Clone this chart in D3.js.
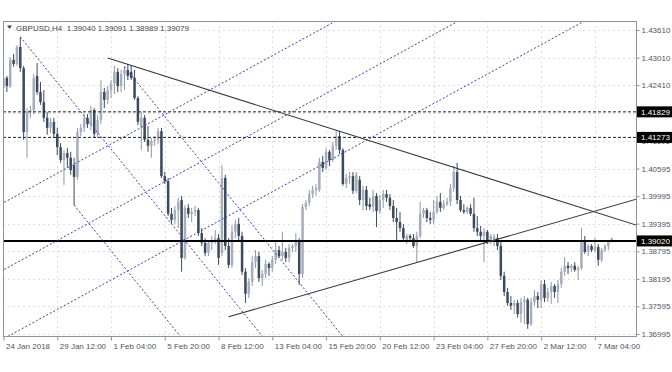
<!DOCTYPE html>
<html>
<head>
<meta charset="utf-8">
<script src="https://cdn.jsdelivr.net/npm/d3@7"></script>
<style>
  html, body { margin: 0; padding: 0; background: #fff; }
  svg { display: block; font-family: "Liberation Sans", Arial, sans-serif; }
</style>
</head>
<body>
<svg id="chart" width="672" height="372"></svg>
<script>
// GBPUSD H4 bars
const openP = [
  1.4235,1.4257,1.4239,1.4296,1.4287,1.4324,1.4278,1.4139,1.4183,1.4187,
  1.4261,1.4226,1.4204,1.4170,1.4148,1.4161,1.4135,1.4106,1.4078,1.4093,
  1.4083,1.4067,1.4041,1.4139,1.4148,1.4170,1.4156,1.4187,1.4135,1.4165,
  1.4226,1.4209,1.4230,1.4244,1.4270,1.4239,1.4265,1.4274,1.4270,1.4257,
  1.4213,1.4150,1.4170,1.4122,1.4109,1.4120,1.4122,1.4141,1.4043,1.4032,
  1.3961,1.3948,1.3969,1.3991,1.3865,1.3974,1.3961,1.3965,1.3969,1.3919,
  1.3898,1.3876,1.3898,1.3904,1.3908,1.3876,1.4039,1.3891,1.3850,1.3922,
  1.3939,1.3913,1.3835,1.3787,1.3813,1.3856,1.3869,1.3821,1.3830,1.3852,
  1.3843,1.3861,1.3882,1.3869,1.3878,1.3865,1.3887,1.3891,1.3900,1.3830,
  1.3976,1.3985,1.4004,1.4013,1.4013,1.4074,1.4061,1.4096,1.4078,1.4109,
  1.4130,1.4100,1.4026,1.4039,1.4043,1.4011,1.4035,1.3991,1.4013,1.3982,
  1.3976,1.4000,1.3967,1.3991,1.4004,1.3996,1.3978,1.3952,1.3943,1.3930,
  1.3904,1.3913,1.3908,1.3891,1.3913,1.3961,1.3969,1.3952,1.3948,1.3965,
  1.3987,1.3974,1.3982,1.3987,1.4017,1.4052,1.3991,1.3969,1.3965,1.3974,
  1.3961,1.3930,1.3922,1.3913,1.3922,1.3902,1.3904,1.3908,1.3891,1.3826,
  1.3791,1.3767,1.3761,1.3767,1.3743,1.3769,1.3774,1.3721,1.3769,1.3782,
  1.3774,1.3808,1.3778,1.3791,1.3804,1.3791,1.3808,1.3835,1.3848,1.3843,
  1.3848,1.3839,1.3843,1.3904,1.3878,1.3891,1.3882,1.3889,1.3861,1.3882,
  1.3891,1.3904
];
const highP = [
  1.4268,1.4261,1.4302,1.4309,1.4328,1.4346,1.4283,1.4191,1.4196,1.4265,
  1.4289,1.4248,1.4230,1.4183,1.4170,1.4170,1.4148,1.4115,1.4100,1.4104,
  1.4096,1.4083,1.4148,1.4156,1.4178,1.4178,1.4196,1.4191,1.4176,1.4252,
  1.4235,1.4239,1.4252,1.4283,1.4278,1.4274,1.4283,1.4287,1.4283,1.4274,
  1.4217,1.4183,1.4176,1.4152,1.4126,1.4130,1.4148,1.4148,1.4052,1.4039,
  1.3974,1.3978,1.3996,1.4000,1.3980,1.3982,1.3974,1.3978,1.3974,1.3930,
  1.3908,1.3904,1.3913,1.3926,1.3917,1.4067,1.4046,1.3908,1.3937,1.3948,
  1.3952,1.3922,1.3843,1.3821,1.3869,1.3882,1.3878,1.3839,1.3861,1.3856,
  1.3869,1.3904,1.3891,1.3922,1.3887,1.3895,1.3895,1.3919,1.3908,1.3982,
  1.3991,1.4013,1.4022,1.4026,1.4083,1.4087,1.4104,1.4100,1.4117,1.4143,
  1.4141,1.4104,1.4048,1.4052,1.4052,1.4052,1.4043,1.4022,1.4022,1.3996,
  1.4013,1.4006,1.4002,1.4013,1.4013,1.4004,1.3991,1.3974,1.3965,1.3939,
  1.3917,1.3917,1.3917,1.3922,1.3987,1.3974,1.3974,1.3965,1.3991,1.4000,
  1.4006,1.3991,1.3996,1.4026,1.4065,1.4072,1.4000,1.3982,1.3978,1.3982,
  1.3996,1.3956,1.3935,1.3930,1.3926,1.3917,1.3917,1.3917,1.3900,1.3835,
  1.3800,1.3782,1.3774,1.3774,1.3778,1.3782,1.3778,1.3778,1.3795,1.3791,
  1.3817,1.3817,1.3800,1.3813,1.3808,1.3817,1.3843,1.3867,1.3856,1.3852,
  1.3856,1.3848,1.3930,1.3913,1.3895,1.3895,1.3908,1.3895,1.3887,1.3895,
  1.3904,1.3909
];
const lowP = [
  1.4213,1.4226,1.4235,1.4281,1.4283,1.4270,1.4122,1.4083,1.4170,1.4178,
  1.4220,1.4198,1.4161,1.4133,1.4137,1.4126,1.4089,1.4072,1.4024,1.4061,
  1.4046,1.3980,1.4035,1.4130,1.4139,1.4148,1.4143,1.4126,1.4126,1.4156,
  1.4191,1.4200,1.4213,1.4222,1.4226,1.4226,1.4230,1.4252,1.4252,1.4209,
  1.4154,1.4100,1.4117,1.4096,1.4083,1.4109,1.4113,1.4039,1.4026,1.3956,
  1.3939,1.3939,1.3930,1.3835,1.3861,1.3952,1.3943,1.3956,1.3913,1.3891,
  1.3869,1.3869,1.3882,1.3895,1.3850,1.3869,1.3882,1.3843,1.3843,1.3908,
  1.3904,1.3828,1.3767,1.3778,1.3804,1.3843,1.3813,1.3804,1.3821,1.3826,
  1.3835,1.3852,1.3865,1.3861,1.3856,1.3856,1.3878,1.3878,1.3806,1.3821,
  1.3969,1.3978,1.3996,1.4000,1.4009,1.4052,1.4056,1.4065,1.4074,1.4100,
  1.4091,1.4022,1.4017,1.4026,1.4004,1.4006,1.3980,1.3969,1.3969,1.3969,
  1.3965,1.3932,1.3961,1.3974,1.3987,1.3969,1.3943,1.3904,1.3922,1.3900,
  1.3895,1.3900,1.3887,1.3856,1.3908,1.3952,1.3943,1.3939,1.3939,1.3961,
  1.3965,1.3969,1.3978,1.3978,1.4009,1.3982,1.3965,1.3961,1.3961,1.3956,
  1.3922,1.3913,1.3904,1.3856,1.3895,1.3895,1.3891,1.3882,1.3817,1.3782,
  1.3761,1.3752,1.3743,1.3735,1.3724,1.3721,1.3711,1.3717,1.3761,1.3756,
  1.3756,1.3769,1.3769,1.3765,1.3778,1.3767,1.3800,1.3826,1.3830,1.3835,
  1.3835,1.3817,1.3839,1.3874,1.3869,1.3878,1.3878,1.3848,1.3856,1.3878,
  1.3882,1.3899
];
const closeP = [
  1.4257,1.4239,1.4296,1.4287,1.4324,1.4278,1.4139,1.4183,1.4187,1.4257,
  1.4226,1.4204,1.4170,1.4148,1.4161,1.4135,1.4106,1.4078,1.4093,1.4083,
  1.4056,1.4041,1.4139,1.4148,1.4170,1.4156,1.4187,1.4135,1.4165,1.4226,
  1.4209,1.4230,1.4244,1.4270,1.4239,1.4265,1.4274,1.4261,1.4257,1.4213,
  1.4161,1.4170,1.4122,1.4109,1.4120,1.4122,1.4141,1.4043,1.4032,1.3961,
  1.3948,1.3969,1.3987,1.3865,1.3974,1.3961,1.3965,1.3969,1.3919,1.3898,
  1.3876,1.3898,1.3904,1.3908,1.3865,1.4039,1.3891,1.3850,1.3922,1.3939,
  1.3913,1.3835,1.3787,1.3813,1.3856,1.3869,1.3821,1.3830,1.3852,1.3843,
  1.3861,1.3882,1.3869,1.3878,1.3865,1.3887,1.3891,1.3900,1.3830,1.3976,
  1.3985,1.4004,1.4013,1.4017,1.4074,1.4061,1.4096,1.4078,1.4109,1.4130,
  1.4100,1.4026,1.4039,1.4043,1.4011,1.4046,1.3991,1.4013,1.3978,1.3976,
  1.4000,1.3967,1.3991,1.4004,1.3996,1.3978,1.3952,1.3943,1.3930,1.3908,
  1.3913,1.3908,1.3891,1.3913,1.3961,1.3969,1.3952,1.3948,1.3965,1.3987,
  1.3974,1.3982,1.3987,1.4017,1.4052,1.3991,1.3969,1.3965,1.3974,1.3961,
  1.3930,1.3922,1.3913,1.3922,1.3902,1.3913,1.3911,1.3891,1.3826,1.3791,
  1.3767,1.3761,1.3767,1.3743,1.3769,1.3774,1.3721,1.3769,1.3782,1.3774,
  1.3808,1.3778,1.3791,1.3804,1.3791,1.3808,1.3835,1.3848,1.3843,1.3848,
  1.3839,1.3843,1.3904,1.3878,1.3891,1.3882,1.3889,1.3861,1.3882,1.3891,
  1.3900,1.3908
];

// axis ticks
const dateBars = [0, 16, 32, 48, 64, 80, 96, 112, 128, 144, 160, 176];
const dateLabels = ['24 Jan 2018', '29 Jan 12:00', '1 Feb 04:00', '5 Feb 20:00', '8 Feb 12:00',
  '13 Feb 04:00', '15 Feb 20:00', '20 Feb 12:00', '23 Feb 04:00', '27 Feb 20:00', '2 Mar 12:00', '7 Mar 04:00'];
const priceTicks = [1.43610, 1.43010, 1.42410, 1.41810, 1.41195, 1.40595, 1.39995,
  1.39395, 1.38795, 1.38195, 1.37595, 1.36995];

// drawn objects, anchors as [bar, price]
const dashedLevels = [1.41829, 1.41273];
const solidLevels = [1.39020];
const trendRays = [
  [[31, 1.4300], [150, 1.4025]],
  [[67, 1.3737], [150, 1.3912]]
];
const forkRaysDown = [
  [[5, 1.4346], [77, 1.3695]],
  [[21, 1.3980], [52, 1.3700]],
  [[36, 1.4281], [98, 1.3721]]
];
const channelUp = [
  [[0, 1.3985], [70, 1.4265]],
  [[0, 1.3839], [70, 1.4119]],
  [[0, 1.3689], [70, 1.3969]]
];
const header = ['GBPUSD,H4', '1.39040', '1.39091', '1.38989', '1.39079'];

const plot = { left: 3, top: 21, right: 636, bottom: 336 };
const svg = d3.select('#chart');

const x = d3.scaleLinear().domain([0, 181]).range([3.5, 611.7]);
const y = d3.scaleLinear().domain([1.36995, 1.43610]).range([334, 30]);

svg.append('defs').append('clipPath').attr('id', 'plotClip')
  .append('rect')
  .attr('x', plot.left).attr('y', plot.top)
  .attr('width', plot.right - plot.left).attr('height', plot.bottom - plot.top);

// grid
const grid = svg.append('g')
  .attr('stroke', '#dedede')
  .attr('stroke-dasharray', '2,3');
grid.selectAll('line.gh')
  .data(priceTicks)
  .join('line')
  .attr('class', 'gh')
  .attr('x1', plot.left).attr('x2', plot.right)
  .attr('y1', d => Math.round(y(d)) + 0.5).attr('y2', d => Math.round(y(d)) + 0.5);
grid.selectAll('line.gv')
  .data(dateBars.slice(1))
  .join('line')
  .attr('class', 'gv')
  .attr('x1', d => Math.round(x(d)) + 0.5).attr('x2', d => Math.round(x(d)) + 0.5)
  .attr('y1', plot.top).attr('y2', plot.bottom);

const inner = svg.append('g').attr('clip-path', 'url(#plotClip)');

// candles
const bars = d3.range(openP.length).map(i => ({
  i, o: openP[i], h: highP[i], l: lowP[i], c: closeP[i]
}));
const candle = inner.append('g').selectAll('g')
  .data(bars)
  .join('g');
candle.append('line')
  .attr('x1', d => x(d.i)).attr('x2', d => x(d.i))
  .attr('y1', d => y(d.h)).attr('y2', d => y(d.l))
  .attr('stroke', d => d.c >= d.o ? '#8d96a2' : '#3b4a5d')
  .attr('stroke-width', 1);
candle.append('rect')
  .attr('x', d => x(d.i) - 1.25)
  .attr('width', 2.5)
  .attr('y', d => y(Math.max(d.o, d.c)))
  .attr('height', d => Math.max(1, Math.abs(y(d.o) - y(d.c))))
  .attr('fill', d => d.c >= d.o ? '#a6aeb9' : '#3b4a5d');

// price levels
inner.selectAll('line.lvd')
  .data(dashedLevels)
  .join('line')
  .attr('class', 'lvd')
  .attr('x1', plot.left).attr('x2', plot.right)
  .attr('y1', d => y(d)).attr('y2', d => y(d))
  .attr('stroke', '#222').attr('stroke-dasharray', '3,2');
inner.selectAll('line.lvs')
  .data(solidLevels)
  .join('line')
  .attr('class', 'lvs')
  .attr('x1', plot.left).attr('x2', plot.right)
  .attr('y1', d => y(d)).attr('y2', d => y(d))
  .attr('stroke', '#000').attr('stroke-width', 2);

// a line through two [bar, price] anchors, as a scale from bar to price
function lineThrough(a) {
  return d3.scaleLinear().domain([a[0][0], a[1][0]]).range([a[0][1], a[1][1]]);
}

function drawLines(data, fromBar, style) {
  inner.append('g').selectAll('line')
    .data(data)
    .join('line')
    .attr('x1', d => x(fromBar(d)))
    .attr('y1', d => y(lineThrough(d)(fromBar(d))))
    .attr('x2', x(260))
    .attr('y2', d => y(lineThrough(d)(260)))
    .attr('stroke', style.color)
    .attr('stroke-width', style.width)
    .attr('stroke-dasharray', style.dash);
}

drawLines(channelUp, () => -5, { color: '#3b3bc4', width: 1, dash: '2,2' });
drawLines(forkRaysDown, d => d[0][0], { color: '#3b3bc4', width: 1, dash: '2,2' });
drawLines(trendRays, d => d[0][0], { color: '#3a3a3a', width: 1.1, dash: null });

// frame
svg.append('rect')
  .attr('x', plot.left + 0.5).attr('y', plot.top + 0.5)
  .attr('width', plot.right - plot.left).attr('height', plot.bottom - plot.top)
  .attr('fill', 'none').attr('stroke', '#8e9399');

// axes
const yAxis = svg.append('g')
  .attr('transform', `translate(${plot.right + 0.5},0)`)
  .call(d3.axisRight(y).tickValues(priceTicks).tickFormat(d3.format('.5f')).tickSize(3).tickPadding(2));
const xAxis = svg.append('g')
  .attr('transform', `translate(0,${plot.bottom + 0.5})`)
  .call(d3.axisBottom(x).tickValues(dateBars).tickFormat((d, i) => dateLabels[i]).tickSize(4).tickPadding(3));

[yAxis, xAxis].forEach(ax => {
  ax.select('.domain').remove();
  ax.selectAll('line').attr('stroke', '#8e9399');
  ax.selectAll('text')
    .attr('fill', '#4f5560')
    .style('font-size', '8px')
    .style('font-family', '"Liberation Sans", Arial, sans-serif');
});
xAxis.selectAll('text').attr('text-anchor', 'start').attr('dx', 2);

// level labels on the price axis
const tags = svg.append('g').selectAll('g')
  .data(dashedLevels.concat(solidLevels))
  .join('g')
  .attr('transform', d => `translate(637,${y(d)})`);
tags.append('rect')
  .attr('x', 0).attr('y', -5.5).attr('width', 35).attr('height', 11)
  .attr('fill', '#000');
tags.append('text')
  .attr('x', 4).attr('y', 3)
  .attr('fill', '#fff')
  .style('font-size', '8px')
  .text(d => d3.format('.5f')(d));

// header
svg.append('path')
  .attr('d', 'M7,25.5 L12,25.5 L9.5,29 Z')
  .attr('fill', '#444');
svg.append('text')
  .attr('x', 16).attr('y', 30.5)
  .attr('fill', '#444')
  .style('font-size', '8px')
  .attr('xml:space', 'preserve')
  .text(header[0] + '  ' + header.slice(1).join(' '));
</script>
</body>
</html>
